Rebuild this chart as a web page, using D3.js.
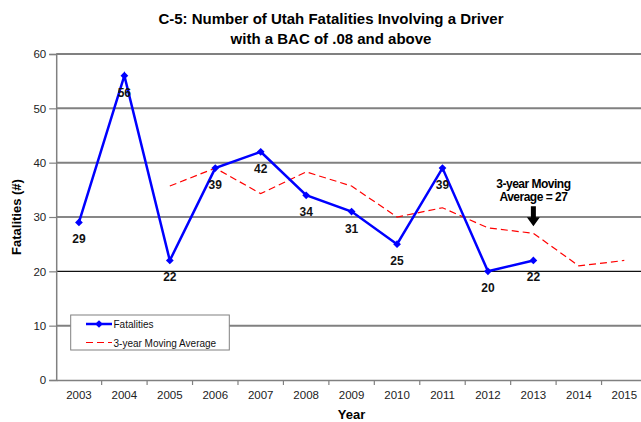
<!DOCTYPE html>
<html><head><meta charset="utf-8">
<script src="https://cdn.jsdelivr.net/npm/d3@7"></script>
<style>
html,body{margin:0;padding:0;background:#fff;}
svg{display:block;font-family:"Liberation Sans",Arial,sans-serif;}
</style></head>
<body><svg id="c" width="641" height="422"></svg>
<script>
const years = ["2003","2004","2005","2006","2007","2008","2009","2010","2011","2012","2013","2014","2015"];
const fatalities = [29,56,22,39,42,34,31,25,39,20,22,null,null];
const movingAvg = [null,null,35.7,39,34.3,38.3,35.7,30,31.7,28,27,21,22];
const yTicks = [0,10,20,30,40,50,60];
const titleLines = ["C-5: Number of Utah Fatalities Involving a Driver","with a BAC of .08 and above"];
const seriesNames = ["Fatalities","3-year Moving Average"];
const annotation = ["3-year Moving","Average = 27"];
const annotationYear = "2013";

const svg = d3.select("#c");
const L=56.2, R=647, T=54, B=380;
const x = d3.scaleBand().domain(years).range([L,R]).padding(0);
const y = d3.scaleLinear().domain([0,60]).range([B,T]);
const cx = d => x(d)+x.bandwidth()/2;

// gridlines
svg.append("g").selectAll("line").data(yTicks.filter(v=>v>0)).join("line")
  .attr("x1",L).attr("x2",R).attr("y1",d=>y(d)).attr("y2",d=>y(d))
  .attr("stroke",d=>d>=40||d===10?"#808080":"#111")
  .attr("stroke-width",d=>d>=40||d===10?2:1.2);

// y axis
const ya = svg.append("g").attr("transform",`translate(${L},0)`)
  .call(d3.axisLeft(y).tickValues(yTicks).tickSize(7).tickPadding(3));
ya.select(".domain").attr("stroke","#808080").attr("stroke-width",1.5);
ya.selectAll(".tick line").attr("stroke","#808080").attr("stroke-width",1.2);
ya.selectAll("text").attr("font-size","11.5px").attr("fill","#222").attr("font-family","Liberation Sans, Arial, sans-serif");

// x axis
const xa = svg.append("g").attr("transform",`translate(0,${B})`)
  .call(d3.axisBottom(x).tickSize(0).tickPadding(11));
xa.select(".domain").attr("stroke","#808080").attr("stroke-width",1.5);
xa.selectAll("text").attr("font-size","11.5px").attr("fill","#222").attr("font-family","Liberation Sans, Arial, sans-serif");
svg.append("g").selectAll("line").data(years.slice(1)).join("line")
  .attr("x1",d=>x(d)).attr("x2",d=>x(d)).attr("y1",B).attr("y2",B+5)
  .attr("stroke","#808080").attr("stroke-width",1.2);

// moving average line
const maData = years.map((d,i)=>({year:d,v:movingAvg[i]})).filter(d=>d.v!=null);
svg.append("path").datum(maData)
  .attr("d",d3.line().x(d=>cx(d.year)).y(d=>y(d.v)))
  .attr("fill","none").attr("stroke","#ff0000").attr("stroke-width",1.2)
  .attr("stroke-dasharray","7,4");

// fatalities line
const fData = years.map((d,i)=>({year:d,v:fatalities[i]})).filter(d=>d.v!=null);
svg.append("path").datum(fData)
  .attr("d",d3.line().x(d=>cx(d.year)).y(d=>y(d.v)))
  .attr("fill","none").attr("stroke","#0000ff").attr("stroke-width",2.5);
const diamond = d3.symbol().type(d3.symbolSquare).size(30);
svg.append("g").selectAll("path").data(fData).join("path")
  .attr("d",diamond).attr("transform",d=>`translate(${cx(d.year)},${y(d.v)}) rotate(45)`)
  .attr("fill","#0000ff");
svg.append("g").selectAll("text").data(fData).join("text")
  .attr("x",d=>cx(d.year)).attr("y",d=>y(d.v)+21)
  .attr("text-anchor","middle").attr("font-weight","bold").attr("font-size","12px")
  .attr("fill","#111").text(d=>d.v);

// annotation
const ax = cx(annotationYear);
const ay = y(movingAvg[years.indexOf(annotationYear)]);
svg.append("g").selectAll("text").data(annotation).join("text")
  .attr("x",ax).attr("y",(d,i)=>ay-45+i*13)
  .attr("text-anchor","middle").attr("font-weight","bold").attr("font-size","12px")
  .attr("letter-spacing","-0.5px").attr("fill","#000").text(d=>d);
svg.append("path")
  .attr("d",`M${ax-2.5},${ay-27} L${ax+2.5},${ay-27} L${ax+2.5},${ay-16} L${ax+6.5},${ay-16} L${ax},${ay-7} L${ax-6.5},${ay-16} L${ax-2.5},${ay-16} Z`)
  .attr("fill","#000");

// legend
const lg = svg.append("g");
lg.append("rect").attr("x",70.7).attr("y",315).attr("width",158.6).attr("height",35)
  .attr("fill","#fff").attr("stroke","#808080").attr("stroke-width",1);
lg.append("line").attr("x1",86).attr("x2",112).attr("y1",324).attr("y2",324)
  .attr("stroke","#0000ff").attr("stroke-width",2.5);
lg.append("path").attr("d",diamond).attr("transform","translate(99,324) rotate(45)").attr("fill","#0000ff");
lg.append("line").attr("x1",86).attr("x2",112).attr("y1",342.5).attr("y2",342.5)
  .attr("stroke","#ff0000").attr("stroke-width",1.2).attr("stroke-dasharray","7,4");
lg.selectAll("text").data(seriesNames).join("text")
  .attr("x",113.5).attr("y",(d,i)=>328+i*18.5).attr("font-size","10px").attr("fill","#111").text(d=>d);

// titles
svg.append("g").selectAll("text").data(titleLines).join("text")
  .attr("x",331).attr("y",(d,i)=>24+i*19.5).attr("text-anchor","middle")
  .attr("font-weight","bold").attr("font-size","15px").attr("fill","#000").text(d=>d);
svg.append("text").attr("transform",`translate(21,${(T+B)/2}) rotate(-90)`)
  .attr("text-anchor","middle").attr("font-weight","bold").attr("font-size","13px").text("Fatalities (#)");
svg.append("text").attr("x",(L+R)/2).attr("y",419).attr("text-anchor","middle")
  .attr("font-weight","bold").attr("font-size","13px").text("Year");
</script></body></html>
